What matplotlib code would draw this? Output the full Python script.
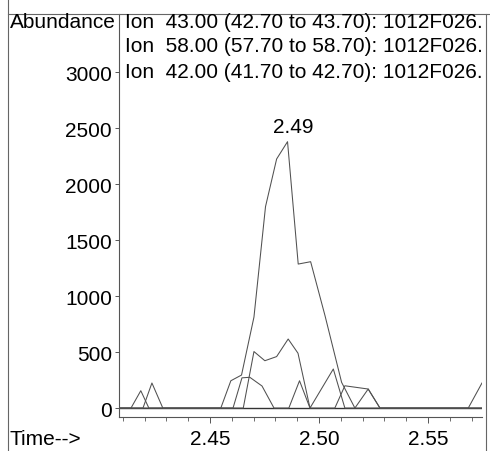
import matplotlib
matplotlib.use('Agg')
import matplotlib.pyplot as plt
from matplotlib.ticker import MultipleLocator, FormatStrFormatter
from matplotlib.lines import Line2D

plt.rcParams['font.family'] = ['Liberation Sans', 'DejaVu Sans']

# ion 43 (main peak)
t43 = [2.4083, 2.4550, 2.4596, 2.4645, 2.4702, 2.4755, 2.4806, 2.4856,
       2.4905, 2.4962, 2.5028, 2.5104, 2.5165, 2.5226, 2.5280, 2.5685, 2.5748]
a43 = [0, 0, 244, 295, 813, 1800, 2226, 2381,
       1287, 1308, 825, 230, 0, 170, 0, 0, 224]

# ion 58
t58 = [2.4083, 2.4138, 2.4183, 2.4220, 2.4653, 2.4702, 2.4752, 2.4806,
       2.4859, 2.4904, 2.4959, 2.5066, 2.5119, 2.5748]
a58 = [0, 0, 155, 0, 0, 505, 423, 460,
       617, 490, 0, 349, 0, 0]

# ion 42
t42 = [2.4083, 2.4193, 2.4234, 2.4284, 2.4606, 2.4647, 2.4683, 2.4739,
       2.4794, 2.4862, 2.4911, 2.4959, 2.5073, 2.5119, 2.5226, 2.5280, 2.5748]
a42 = [0, 0, 224, 0, 0, 270, 275, 197,
       0, 0, 244, 0, 0, 199, 170, 0, 0]

ion_labels = ["Ion  43.00 (42.70 to 43.70): 1012F026.",
              "Ion  58.00 (57.70 to 58.70): 1012F026.",
              "Ion  42.00 (41.70 to 42.70): 1012F026."]
y_ticks = [0, 500, 1000, 1500, 2000, 2500, 3000]
peak_label = "2.49"

W, H = 490, 452
fig = plt.figure(figsize=(W / 100, H / 100), dpi=100)
ax = fig.add_axes([119 / W, 1 - 418 / H, (482 - 119) / W, (418 - 15) / H])

lc = '#505050'
for t, a in [(t43, a43), (t58, a58), (t42, a42)]:
    ax.plot(t, a, color=lc, lw=0.75)
# baseline looks heavier where the traces overlap
ax.axhline(0, color='#333333', lw=1.0, zorder=1)

ax.set_xlim(2.4083, 2.5748)
ax.set_ylim(-80, 3522)
ax.spines['top'].set_visible(False)
ax.spines['right'].set_visible(False)
for s in ['left', 'bottom']:
    ax.spines[s].set_color('#555555')
    ax.spines[s].set_linewidth(0.8)

ax.set_yticks(y_ticks)
ax.xaxis.set_major_locator(MultipleLocator(0.05))
ax.xaxis.set_minor_locator(MultipleLocator(0.01))
ax.xaxis.set_major_formatter(FormatStrFormatter('%.2f'))
ax.tick_params(axis='x', which='major', length=4, width=0.7, pad=5,
               labelsize=15, color='#555555')
ax.tick_params(axis='x', which='minor', length=3, width=0.6, color='#555555')
ax.tick_params(axis='y', length=3, width=0.7, pad=2, labelsize=15,
               color='#555555')

# peak annotation
i = a43.index(max(a43))
ax.annotate(peak_label, xy=(t43[i], a43[i]), xytext=(4, 4),
            textcoords='offset points', ha='center', va='bottom', fontsize=15)

# header / footer text
fig.text(10 / W, 1 - 22 / H, "Abundance", fontsize=15, va='center', ha='left')
for k, lab in enumerate(ion_labels):
    fig.text(125 / W, 1 - (22 + 25 * k) / H, lab, fontsize=15,
             va='center', ha='left')
fig.text(10 / W, 1 - 440 / H, "Time-->", fontsize=15, va='center', ha='left')

# outer frame from the printout
fc = '#666666'
fig.add_artist(Line2D([8 / W, 8 / W], [0, 1], transform=fig.transFigure,
                      color=fc, lw=0.8))
fig.add_artist(Line2D([8 / W, 1], [1 - 15 / H, 1 - 15 / H],
                      transform=fig.transFigure, color=fc, lw=0.8))
fig.add_artist(Line2D([486 / W, 486 / W], [0, 1 - 15 / H],
                      transform=fig.transFigure, color=fc, lw=0.8))

fig.savefig('out.png', dpi=100)
